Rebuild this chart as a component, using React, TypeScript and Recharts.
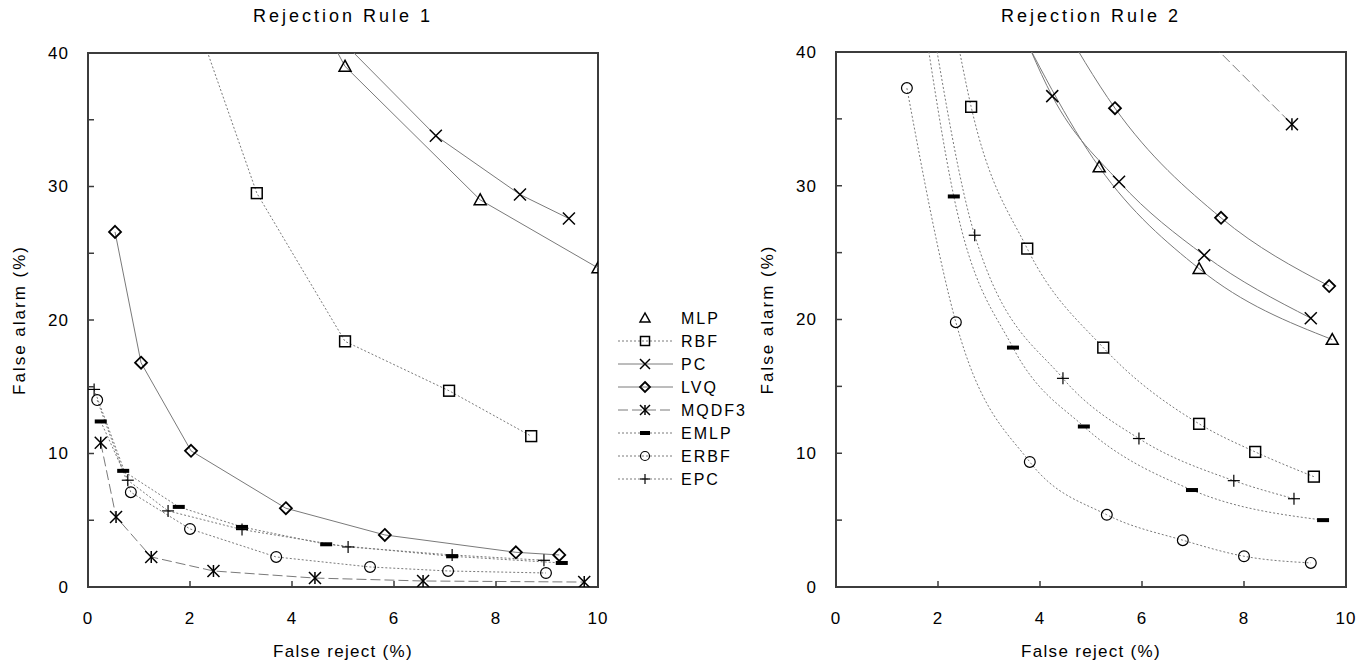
import { LineChart, Line, XAxis, YAxis, ReferenceArea } from 'recharts';

type Pt = [number, number];

// false reject (%), false alarm (%) — first point of some series sits above the plot (line enters from the top)
const rule1MLP: Pt[] = [[4.5, 42.8], [5.04, 39.0], [7.69, 29.0], [10.0, 23.9]];
const rule1RBF: Pt[] = [[2.0, 43.8], [3.31, 29.5], [5.04, 18.4], [7.08, 14.7], [8.69, 11.3]];
const rule1PC: Pt[] = [[4.8, 41.6], [6.82, 33.8], [8.47, 29.4], [9.43, 27.6]];
const rule1LVQ: Pt[] = [[0.53, 26.6], [1.04, 16.8], [2.02, 10.2], [3.88, 5.9], [5.82, 3.9], [8.39, 2.6], [9.24, 2.4]];
const rule1MQDF3: Pt[] = [[0.25, 10.8], [0.55, 5.25], [1.24, 2.25], [2.46, 1.2], [4.45, 0.67], [6.57, 0.45], [9.73, 0.37]];
const rule1EMLP: Pt[] = [[0.25, 12.4], [0.69, 8.7], [1.78, 6.0], [3.02, 4.5], [4.67, 3.2], [7.14, 2.3], [9.29, 1.8]];
const rule1ERBF: Pt[] = [[0.18, 14.0], [0.84, 7.1], [2.0, 4.35], [3.69, 2.25], [5.53, 1.5], [7.06, 1.2], [8.98, 1.05]];
const rule1EPC: Pt[] = [[0.12, 14.8], [0.78, 8.0], [1.57, 5.7], [3.02, 4.3], [5.1, 3.0], [7.14, 2.4], [8.94, 2.0]];

const rule2MLP: Pt[] = [[3.3, 44], [5.16, 31.4], [7.12, 23.8], [9.73, 18.5]];
const rule2RBF: Pt[] = [[2.3, 42.5], [2.65, 35.9], [3.75, 25.3], [5.24, 17.9], [7.12, 12.2], [8.22, 10.1], [9.37, 8.25]];
const rule2PC: Pt[] = [[3.4, 44], [4.24, 36.7], [5.55, 30.3], [7.22, 24.8], [9.31, 20.1]];
const rule2LVQ: Pt[] = [[4.3, 43], [5.47, 35.8], [7.55, 27.6], [9.67, 22.5]];
const rule2MQDF3: Pt[] = [[7.0, 42], [8.94, 34.6]];
const rule2EMLP: Pt[] = [[1.7, 43], [2.31, 29.2], [3.47, 17.9], [4.86, 12.0], [6.98, 7.25], [9.55, 5.0]];
const rule2ERBF: Pt[] = [[1.39, 37.3], [2.35, 19.8], [3.8, 9.35], [5.31, 5.4], [6.8, 3.5], [8.0, 2.3], [9.31, 1.8]];
const rule2EPC: Pt[] = [[1.85, 43], [2.72, 26.3], [4.45, 15.6], [5.94, 11.1], [7.8, 7.95], [8.98, 6.6]];

const names = ['MLP', 'RBF', 'PC', 'LVQ', 'MQDF3', 'EMLP', 'ERBF', 'EPC'];
const rule1 = [rule1MLP, rule1RBF, rule1PC, rule1LVQ, rule1MQDF3, rule1EMLP, rule1ERBF, rule1EPC];
const rule2 = [rule2MLP, rule2RBF, rule2PC, rule2LVQ, rule2MQDF3, rule2EMLP, rule2ERBF, rule2EPC];

const xTicks = [0, 2, 4, 6, 8, 10];
const yTicks = [0, 5, 10, 15, 20, 25, 30, 35, 40];
const yLabelTicks = [0, 10, 20, 30, 40];

const FONT = "Arial, 'Liberation Sans', sans-serif";
const LINE = '#7a7a7a';
const AXIS = '#3c3c3c';

const look: Record<string, { shape: string; dash?: string; legendLine: boolean }> = {
  MLP: { shape: 'triangle', legendLine: false },
  RBF: { shape: 'square', dash: '2 2', legendLine: true },
  PC: { shape: 'cross', legendLine: true },
  LVQ: { shape: 'diamond', legendLine: true },
  MQDF3: { shape: 'asterisk', dash: '10 4', legendLine: true },
  EMLP: { shape: 'bar', dash: '2 2', legendLine: true },
  ERBF: { shape: 'circle', dash: '2 2', legendLine: true },
  EPC: { shape: 'plus', dash: '2 2', legendLine: true },
};

const Marker = ({ shape, cx, cy, s = 6 }: { shape: string; cx: number; cy: number; s?: number }) => {
  const st = { stroke: '#000', strokeWidth: 1.5, fill: 'none' };
  switch (shape) {
    case 'triangle':
      return <polygon points={`${cx},${cy - s} ${cx - s},${cy + s * 0.8} ${cx + s},${cy + s * 0.8}`} {...st} />;
    case 'square':
      return <rect x={cx - s * 0.9} y={cy - s * 0.9} width={s * 1.8} height={s * 1.8} {...st} />;
    case 'cross':
      return (
        <g {...st}>
          <line x1={cx - s} y1={cy - s} x2={cx + s} y2={cy + s} />
          <line x1={cx - s} y1={cy + s} x2={cx + s} y2={cy - s} />
        </g>
      );
    case 'diamond':
      return <polygon points={`${cx},${cy - s} ${cx + s},${cy} ${cx},${cy + s} ${cx - s},${cy}`} {...st} strokeWidth={1.8} />;
    case 'asterisk':
      return (
        <g {...st}>
          <line x1={cx - s} y1={cy - s} x2={cx + s} y2={cy + s} />
          <line x1={cx - s} y1={cy + s} x2={cx + s} y2={cy - s} />
          <line x1={cx} y1={cy - s} x2={cx} y2={cy + s} />
        </g>
      );
    case 'bar':
      return <rect x={cx - s} y={cy - 2} width={s * 2} height={4} fill="#000" />;
    case 'circle':
      return <circle cx={cx} cy={cy} r={s * 0.9} {...st} strokeWidth={1.2} />;
    case 'plus':
      return (
        <g stroke="#000" strokeWidth={1.2}>
          <line x1={cx - s} y1={cy} x2={cx + s} y2={cy} />
          <line x1={cx} y1={cy - s} x2={cx} y2={cy + s} />
        </g>
      );
    default:
      return null;
  }
};

const XTick = ({ x, y, payload }: any) => (
  <g>
    <line x1={x} y1={y} x2={x} y2={y - 6} stroke={AXIS} strokeWidth={1.5} />
    <text x={x} y={y + 31} dy="0.35em" textAnchor="middle" fontSize={17} letterSpacing={1} fill="#000" fontFamily={FONT}>
      {payload.value}
    </text>
  </g>
);

const YTick = ({ x, y, payload }: any) => (
  <g>
    <line x1={x} y1={y} x2={x + 6} y2={y} stroke={AXIS} strokeWidth={1.5} />
    {yLabelTicks.includes(payload.value) && (
      <text x={x - 19} y={y} dy="0.35em" textAnchor="end" fontSize={17} letterSpacing={1} fill="#000" fontFamily={FONT}>
        {payload.value}
      </text>
    )}
  </g>
);

interface PanelProps {
  title: string;
  series: Pt[][];
  curve: 'linear' | 'monotone';
  left: number;
  width: number;
  top: number;
  right: number;
}

const Panel = ({ title, series, curve, left, width, top, right }: PanelProps) => (
  <div style={{ position: 'absolute', left, top: 0, width, height: 665 }}>
    <div
      style={{
        position: 'absolute',
        left: 88,
        width: width - 88 - right,
        top: 6,
        textAlign: 'center',
        fontSize: 18,
        letterSpacing: 3,
        fontFamily: FONT,
      }}
    >
      {title}
    </div>
    <LineChart width={width} height={665} margin={{ top, right, bottom: 0, left: 0 }}>
      <XAxis
        type="number"
        dataKey="x"
        domain={[0, 10]}
        ticks={xTicks}
        interval={0}
        allowDataOverflow
        axisLine={false}
        tickLine={false}
        tickSize={0}
        tickMargin={0}
        height={78}
        tick={(p: any) => <XTick {...p} />}
        label={{
          value: 'False reject (%)',
          position: 'insideBottom',
          offset: 8,
          fontSize: 17,
          fill: '#000',
          style: { letterSpacing: 1.3, fontFamily: FONT },
        }}
      />
      <YAxis
        type="number"
        dataKey="y"
        domain={[0, 40]}
        ticks={yTicks}
        interval={0}
        allowDataOverflow
        axisLine={false}
        tickLine={false}
        tickSize={0}
        tickMargin={0}
        width={88}
        tick={(p: any) => <YTick {...p} />}
        label={{
          value: 'False alarm (%)',
          angle: -90,
          position: 'insideLeft',
          offset: 19,
          fontSize: 17,
          fill: '#000',
          style: { textAnchor: 'middle', letterSpacing: 2, fontFamily: FONT },
        }}
      />
      {series.map((pts, i) => {
        const name = names[i];
        const lk = look[name];
        return (
          <Line
            key={name}
            name={name}
            data={pts.map(([x, y]) => ({ x, y }))}
            dataKey="y"
            type={curve}
            stroke={LINE}
            strokeWidth={1}
            strokeDasharray={lk.dash}
            isAnimationActive={false}
            activeDot={false}
            dot={(p: any) =>
              p.payload.y > 40 ? (
                <g key={`${name}-${p.index}`} />
              ) : (
                <g key={`${name}-${p.index}`}>
                  <Marker shape={lk.shape} cx={p.cx} cy={p.cy} />
                </g>
              )
            }
          />
        );
      })}
      <ReferenceArea x1={0} x2={10} y1={0} y2={40} fill="none" stroke={AXIS} strokeWidth={2} />
    </LineChart>
  </div>
);

const LegendBox = () => (
  <svg style={{ position: 'absolute', left: 600, top: 300 }} width={150} height={200}>
    {names.map((name, i) => {
      const lk = look[name];
      const y = 18 + i * 23;
      return (
        <g key={name}>
          {lk.legendLine && (
            <line x1={18} y1={y} x2={73} y2={y} stroke={LINE} strokeWidth={1} strokeDasharray={lk.dash} />
          )}
          <Marker shape={lk.shape} cx={45} cy={y} s={5} />
          <text x={81} y={y} dy="0.35em" fontSize={16} letterSpacing={2} fontFamily={FONT} fill="#000">
            {name}
          </text>
        </g>
      );
    })}
  </svg>
);

export default function App() {
  return (
    <div style={{ position: 'absolute', left: 0, top: 0, width: 1371, height: 665, background: '#fff', fontFamily: FONT }}>
      <Panel title="Rejection Rule 1" series={rule1} curve="linear" left={0} width={620} top={53} right={22} />
      <Panel title="Rejection Rule 2" series={rule2} curve="monotone" left={748} width={623} top={52} right={25} />
      <LegendBox />
    </div>
  );
}
